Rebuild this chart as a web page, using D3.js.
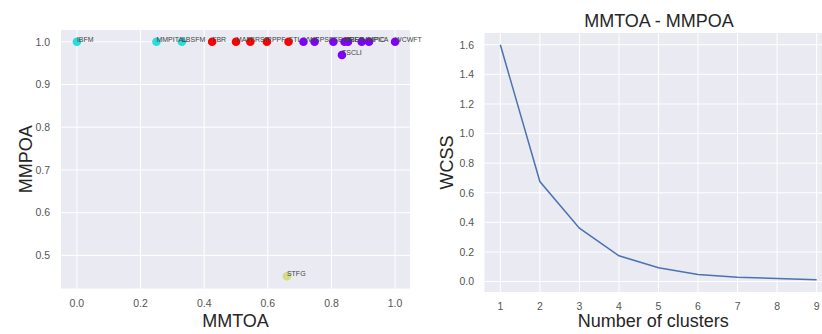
<!DOCTYPE html>
<html><head><meta charset="utf-8">
<script src="https://cdn.jsdelivr.net/npm/d3@7"></script>
<style>
body{margin:0;background:#fff;}
svg{display:block;font-family:"Liberation Sans",Arial,sans-serif;}
</style></head>
<body><svg id="c" width="822" height="334"></svg>
<script>
// ---- Left scatter data ----
const names   = ["IBFM","MMPITAL","LBSFM","FBR","MAF","BRSF","RPPF","STL","VWS","CPSF","SEAF","BREF","IBEF","MMPIC","HPCA","WCWFT","TSCLI","STFG"];
const mmtoa   = [0.0, 0.25, 0.33, 0.425, 0.5, 0.545, 0.597, 0.665, 0.712, 0.747, 0.806, 0.841, 0.852, 0.895, 0.918, 1.0, 0.833, 0.66];
const mmpoa   = [1.0, 1.0, 1.0, 1.0, 1.0, 1.0, 1.0, 1.0, 1.0, 1.0, 1.0, 1.0, 1.0, 1.0, 1.0, 1.0, 0.969, 0.451];
const cluster = [1,1,1,3,3,3,3,3,0,0,0,0,0,0,0,0,0,2];
const clusterColors = ["#8000ff","#2adddd","#d4dd80","#ff0000"];
const leftXTicks = [0.0,0.2,0.4,0.6,0.8,1.0];
const leftYTicks = [0.5,0.6,0.7,0.8,0.9,1.0];

// ---- Right elbow data ----
const clusters = [1,2,3,4,5,6,7,8,9];
const wcss = [1.6, 0.676, 0.361, 0.174, 0.093, 0.047, 0.030, 0.020, 0.013];
const rightYTicks = [0.0,0.2,0.4,0.6,0.8,1.0,1.2,1.4,1.6];

const svg = d3.select("#c");
const bg = "#eaeaf2", tickCol = "#555", labCol = "#262626";

function panel(x0,x1,y0,y1,xs,ys,xt,yt,xfmt,yfmt,xlab,ylab,ylabX,xlabY,xTickY,yTickX){
  const g = svg.append("g");
  g.append("rect").attr("x",x0).attr("y",y0).attr("width",x1-x0).attr("height",y1-y0).attr("fill",bg);
  g.selectAll(".gx").data(xt).enter().append("line")
    .attr("x1",d=>xs(d)).attr("x2",d=>xs(d)).attr("y1",y0).attr("y2",y1)
    .attr("stroke","#fff").attr("stroke-width",1);
  g.selectAll(".gy").data(yt).enter().append("line")
    .attr("y1",d=>ys(d)).attr("y2",d=>ys(d)).attr("x1",x0).attr("x2",x1)
    .attr("stroke","#fff").attr("stroke-width",1);
  g.selectAll(".tx").data(xt).enter().append("text")
    .attr("x",d=>xs(d)).attr("y",xTickY).attr("text-anchor","middle")
    .attr("font-size",10.5).attr("fill",tickCol).text(xfmt);
  g.selectAll(".ty").data(yt).enter().append("text")
    .attr("x",yTickX).attr("y",d=>ys(d)+3.8).attr("text-anchor","end")
    .attr("font-size",10.5).attr("fill",tickCol).text(yfmt);
  g.append("text").attr("x",(x0+Math.min(x1,822))/2).attr("y",xlabY).attr("text-anchor","middle")
    .attr("font-size",18).attr("fill",labCol).text(xlab);
  g.append("text").attr("transform",`translate(${ylabX},${(y0+y1)/2}) rotate(-90)`)
    .attr("text-anchor","middle").attr("font-size",18).attr("fill",labCol).text(ylab);
  return g;
}

// Left panel
const lx = d3.scaleLinear().domain([-0.05,1.05]).range([61,411]);
const ly = d3.scaleLinear().domain([0.4225,1.0275]).range([288.5,30]);
const gl = panel(61,410,30,288.5,lx,ly,leftXTicks,leftYTicks,d3.format(".1f"),d3.format(".1f"),
  "MMTOA","MMPOA",32,327,307,50);
gl.selectAll(".pt").data(names).enter().append("circle")
  .attr("cx",(d,i)=>lx(mmtoa[i])).attr("cy",(d,i)=>ly(mmpoa[i])).attr("r",4.3)
  .attr("fill",(d,i)=>clusterColors[cluster[i]]);
gl.selectAll(".lb").data(names).enter().append("text")
  .attr("x",(d,i)=>lx(mmtoa[i])).attr("y",(d,i)=>ly(mmpoa[i]))
  .attr("font-size",7).attr("fill","#444").text(d=>d);

// Right panel
const rx = d3.scaleLinear().domain([0.6,9.4]).range([484.5,832.5]);
const ry = d3.scaleLinear().domain([-0.0705,1.6795]).range([292,33]);
const gr = panel(484.5,832.5,33,292,rx,ry,clusters,rightYTicks,d3.format("d"),d3.format(".1f"),
  "Number of clusters","WCSS",453,327,310,474);
gr.append("path").datum(clusters)
  .attr("d",d3.line().x(d=>rx(d)).y((d,i)=>ry(wcss[i])))
  .attr("fill","none").attr("stroke","#4c72b0").attr("stroke-width",1.5);
svg.append("text").attr("x",659).attr("y",27).attr("text-anchor","middle")
  .attr("font-size",18).attr("fill",labCol).text("MMTOA - MMPOA");
</script></body></html>
